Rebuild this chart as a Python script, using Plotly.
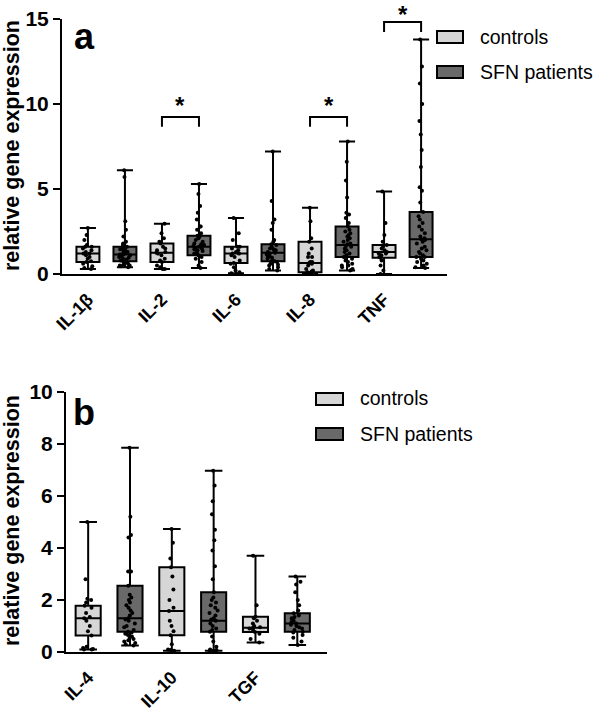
import plotly.graph_objects as go

# ---------------- data ----------------
cats_a = ["IL-1β", "IL-2", "IL-6", "IL-8", "TNF"]
cats_b = ["IL-4", "IL-10", "TGF"]
series = ["controls", "SFN patients"]

# box statistics (min, q1, median, q3, max)
a_ctrl_min = [0.30, 0.30, 0.05, 0.00, 0.00]
a_ctrl_q1 = [0.70, 0.70, 0.65, 0.10, 0.95]
a_ctrl_med = [1.20, 1.25, 1.20, 0.65, 1.30]
a_ctrl_q3 = [1.60, 1.80, 1.60, 1.90, 1.70]
a_ctrl_max = [2.70, 2.95, 3.30, 3.90, 4.85]

a_sfn_min = [0.40, 0.35, 0.20, 0.20, 0.35]
a_sfn_q1 = [0.75, 1.10, 0.75, 1.00, 1.00]
a_sfn_med = [1.15, 1.60, 1.25, 1.70, 2.05]
a_sfn_q3 = [1.60, 2.25, 1.75, 2.80, 3.65]
a_sfn_max = [6.10, 5.30, 7.20, 7.80, 13.80]

b_ctrl_min = [0.10, 0.05, 0.37]
b_ctrl_q1 = [0.63, 0.64, 0.77]
b_ctrl_med = [1.30, 1.58, 0.93]
b_ctrl_q3 = [1.78, 3.26, 1.36]
b_ctrl_max = [5.00, 4.73, 3.70]

b_sfn_min = [0.25, 0.05, 0.27]
b_sfn_q1 = [0.78, 0.78, 0.78]
b_sfn_med = [1.30, 1.20, 1.10]
b_sfn_q3 = [2.55, 2.30, 1.49]
b_sfn_max = [7.86, 6.97, 2.90]

# individual points
a_ctrl_pts = [
    [0.3, 0.35, 0.45, 0.6, 0.7, 0.75, 0.9, 1.0, 1.1, 1.2, 1.2, 1.3, 1.4, 1.5, 1.6, 1.6, 1.7, 2.0, 2.3, 2.7],
    [0.3, 0.3, 0.4, 0.5, 0.7, 0.8, 0.9, 1.1, 1.2, 1.25, 1.3, 1.4, 1.5, 1.6, 1.8, 1.9, 2.1, 2.4, 2.95],
    [0.05, 0.1, 0.2, 0.4, 0.6, 0.65, 0.8, 1.0, 1.1, 1.2, 1.2, 1.3, 1.4, 1.5, 1.6, 1.6, 2.0, 2.4, 3.3],
    [0.02, 0.05, 0.08, 0.1, 0.1, 0.15, 0.2, 0.3, 0.5, 0.6, 0.65, 0.7, 0.7, 1.0, 1.0, 1.2, 1.5, 1.9, 2.1, 3.1, 3.9],
    [0.0, 0.2, 0.5, 0.8, 0.95, 1.0, 1.1, 1.2, 1.2, 1.3, 1.3, 1.4, 1.5, 1.6, 1.7, 1.9, 2.3, 3.0, 4.85],
]
a_sfn_pts = [
    [0.4, 0.45, 0.5, 0.5, 0.55, 0.6, 0.65, 0.7, 0.75, 0.8, 0.85, 0.9, 0.95, 1.0, 1.05, 1.1, 1.15, 1.15,
     1.2, 1.25, 1.3, 1.35, 1.4, 1.45, 1.5, 1.55, 1.6, 1.65, 1.7, 1.8, 1.9, 2.2, 2.6, 3.1, 5.7, 6.1],
    [0.35, 0.5, 0.7, 0.9, 1.0, 1.1, 1.15, 1.2, 1.3, 1.35, 1.4, 1.45, 1.5, 1.55, 1.6, 1.6, 1.65, 1.7,
     1.75, 1.8, 1.9, 2.0, 2.1, 2.2, 2.25, 2.4, 2.6, 2.8, 2.8, 3.2, 3.6, 4.0, 4.7, 5.3],
    [0.2, 0.3, 0.4, 0.5, 0.55, 0.6, 0.7, 0.75, 0.8, 0.9, 0.95, 1.0, 1.05, 1.1, 1.15, 1.2, 1.25, 1.3,
     1.35, 1.4, 1.45, 1.5, 1.6, 1.7, 1.75, 1.9, 2.0, 2.6, 3.0, 3.2, 4.3, 7.2],
    [0.2, 0.25, 0.3, 0.4, 0.5, 0.5, 0.6, 0.7, 0.8, 0.9, 1.0, 1.0, 1.1, 1.2, 1.3, 1.4, 1.5, 1.6, 1.65,
     1.7, 1.75, 1.8, 1.9, 2.0, 2.1, 2.2, 2.3, 2.4, 2.5, 2.6, 2.8, 3.0, 3.3, 3.5, 3.6, 4.5, 5.5, 6.6, 7.8],
    [0.35, 0.4, 0.5, 0.6, 0.7, 0.8, 0.9, 1.0, 1.0, 1.1, 1.2, 1.3, 1.4, 1.5, 1.6, 1.8, 1.9, 2.0, 2.05,
     2.1, 2.2, 2.4, 2.6, 2.8, 3.0, 3.2, 3.4, 3.65, 4.2, 4.9, 5.1, 6.3, 7.3, 8.2, 9.0, 10.0, 11.2, 12.2, 13.8],
]
b_ctrl_pts = [
    [0.1, 0.1, 0.12, 0.15, 0.2, 0.63, 0.8, 1.0, 1.2, 1.3, 1.35, 1.5, 1.7, 1.78, 1.9, 2.0, 2.05, 2.8, 5.0],
    [0.02, 0.05, 0.05, 0.08, 0.1, 0.3, 0.64, 0.8, 1.0, 1.2, 1.58, 1.7, 2.0, 2.4, 2.9, 3.26, 3.6, 4.2, 4.73],
    [0.37, 0.5, 0.7, 0.77, 0.85, 0.9, 0.93, 0.95, 1.0, 1.1, 1.2, 1.3, 1.36, 1.8, 3.7],
]
b_sfn_pts = [
    [0.25, 0.3, 0.35, 0.4, 0.45, 0.5, 0.55, 0.6, 0.65, 0.7, 0.75, 0.78, 0.85, 0.95, 1.0, 1.1, 1.2, 1.25,
     1.3, 1.4, 1.5, 1.6, 1.7, 1.8, 1.9, 2.0, 2.1, 2.2, 2.55, 3.1, 3.1, 4.4, 4.5, 5.2, 7.86],
    [0.03, 0.05, 0.05, 0.08, 0.1, 0.2, 0.4, 0.6, 0.78, 0.85, 0.9, 1.0, 1.1, 1.2, 1.25, 1.3, 1.4, 1.5,
     1.6, 1.7, 1.8, 1.9, 2.0, 2.1, 2.3, 2.8, 3.3, 3.9, 4.3, 4.7, 5.3, 5.8, 6.4, 6.97],
    [0.27, 0.4, 0.55, 0.65, 0.75, 0.78, 0.85, 0.9, 0.95, 1.0, 1.05, 1.1, 1.15, 1.2, 1.25, 1.3, 1.35,
     1.4, 1.49, 1.6, 1.8, 2.0, 2.3, 2.6, 2.7, 2.9],
]

# significance brackets in panel a: category and bracket height
sig_a = ["IL-2", "IL-8", "TNF"]
sig_a_top = [9.24, 9.24, 14.82]

# ---------------- styling ----------------
W, H = 597, 712
FONT = "Liberation Sans, Arial, sans-serif"
C_CTRL = "#d6d6d6"
C_SFN = "#696969"

fig = go.Figure()


def add_panel(cats, ctrl_stats, sfn_stats, ctrl_pts, sfn_pts, xa, ya, bw):
    n = len(cats)
    pos_c = [2 * i for i in range(n)]
    pos_s = [2 * i + 1 for i in range(n)]
    for pos, st, pts, col in ((pos_c, ctrl_stats, ctrl_pts, C_CTRL), (pos_s, sfn_stats, sfn_pts, C_SFN)):
        mn, q1, md, q3, mx = st
        fig.add_trace(go.Box(
            x=pos, lowerfence=mn, q1=q1, median=md, q3=q3, upperfence=mx,
            fillcolor=col, line=dict(color="black", width=2), width=bw,
            whiskerwidth=0.7, boxpoints=False, showlegend=False,
            hoverinfo="skip", xaxis=xa, yaxis=ya,
        ))
        xs, ys = [], []
        for p, vals in zip(pos, pts):
            xs += [p] * len(vals)
            ys += vals
        fig.add_trace(go.Box(
            x=xs, y=ys, boxpoints="all", jitter=0.55, pointpos=0,
            fillcolor="rgba(0,0,0,0)", line=dict(color="rgba(0,0,0,0)", width=0),
            marker=dict(color="black", size=4), width=bw, whiskerwidth=0,
            showlegend=False, hoverinfo="skip", xaxis=xa, yaxis=ya,
        ))


add_panel(cats_a,
          (a_ctrl_min, a_ctrl_q1, a_ctrl_med, a_ctrl_q3, a_ctrl_max),
          (a_sfn_min, a_sfn_q1, a_sfn_med, a_sfn_q3, a_sfn_max),
          a_ctrl_pts, a_sfn_pts, "x", "y", 0.62)
add_panel(cats_b,
          (b_ctrl_min, b_ctrl_q1, b_ctrl_med, b_ctrl_q3, b_ctrl_max),
          (b_sfn_min, b_sfn_q1, b_sfn_med, b_sfn_q3, b_sfn_max),
          b_ctrl_pts, b_sfn_pts, "x2", "y2", 0.6)


def px(xp):
    return xp / W


def py(yp):
    return (H - yp) / H


YA_DOM = [py(274), py(19)]
YA_RANGE = [0, 15]

axis_common = dict(showline=True, linecolor="black", linewidth=2, showgrid=False,
                   zeroline=False, color="black")
xtick = dict(tickangle=-45, ticks="", ticklabelstandoff=6,
             tickfont=dict(size=18, weight="bold"), automargin=False)
ytick = dict(ticks="outside", ticklen=7, tickwidth=2,
             tickfont=dict(size=21, weight="bold"), automargin=False)
fig.update_layout(
    width=W, height=H, margin=dict(l=0, r=0, t=0, b=0),
    paper_bgcolor="white", plot_bgcolor="white", boxmode="overlay",
    font=dict(family=FONT, color="black"),
    xaxis=dict(domain=[px(62), px(447)], range=[-0.7, 9.7], anchor="y",
               tickvals=[0, 2, 4, 6, 8], ticktext=cats_a, **xtick, **axis_common),
    yaxis=dict(domain=YA_DOM, range=YA_RANGE, anchor="x",
               tickvals=[0, 5, 10, 15], **ytick, **axis_common),
    xaxis2=dict(domain=[px(66), px(327)], range=[-0.53, 5.71], anchor="y2",
                tickvals=[0, 2, 4], ticktext=cats_b, **xtick, **axis_common),
    yaxis2=dict(domain=[py(652), py(392)], range=[0, 10], anchor="x2",
                tickvals=[0, 2, 4, 6, 8, 10], **ytick, **axis_common),
)

ann = []
shapes = []
# y titles
for yc in (146, 521):
    ann.append(dict(text="relative gene expression", x=px(12), y=py(yc), xref="paper", yref="paper",
                    textangle=-90, showarrow=False, font=dict(size=21.5, weight="bold"),
                    xanchor="center", yanchor="middle"))
# panel letters
ann.append(dict(text="a", x=px(72), y=py(36), xref="paper", yref="paper", showarrow=False,
                font=dict(size=36, weight="bold"), xanchor="left", yanchor="middle"))
ann.append(dict(text="b", x=px(71), y=py(412), xref="paper", yref="paper", showarrow=False,
                font=dict(size=36, weight="bold"), xanchor="left", yanchor="middle"))

# significance brackets (panel a)
for c, top in zip(sig_a, sig_a_top):
    i = cats_a.index(c)
    x0, x1 = 2 * i, 2 * i + 1
    bottom = top - 0.58
    shapes.append(dict(type="path", xref="x", yref="y",
                       path=f"M {x0},{bottom} L {x0},{top} L {x1},{top} L {x1},{bottom}",
                       line=dict(color="black", width=2)))
    star_val = top - 0.2
    star_paper = YA_DOM[0] + (star_val - YA_RANGE[0]) / (YA_RANGE[1] - YA_RANGE[0]) * (YA_DOM[1] - YA_DOM[0])
    ann.append(dict(text="*", x=(x0 + x1) / 2, y=star_paper, xref="x", yref="paper", showarrow=False,
                    font=dict(size=24, weight="bold"), xanchor="center", yanchor="bottom",
                    borderpad=0, yshift=-4 if top > YA_RANGE[1] - 1 else 0))

# manual legends
for (lx0, lx1, rows, tx) in ((437, 463, [(31, 43, 37), (66, 78, 72)], 478),
                             (316, 343, [(393, 405, 398), (428, 440, 434)], 358)):
    for (r0, r1, tc), name, col in zip(rows, series, (C_CTRL, C_SFN)):
        shapes.append(dict(type="rect", xref="paper", yref="paper",
                           x0=px(lx0), x1=px(lx1), y0=py(r1), y1=py(r0),
                           fillcolor=col, line=dict(color="black", width=2)))
        ann.append(dict(text=name, x=px(tx), y=py(tc), xref="paper", yref="paper", showarrow=False,
                        font=dict(size=19.5), xanchor="left", yanchor="middle"))

fig.update_layout(annotations=ann, shapes=shapes)
fig.write_html("out.html", config={"displayModeBar": False},
               post_script="document.body.style.margin='0';")
